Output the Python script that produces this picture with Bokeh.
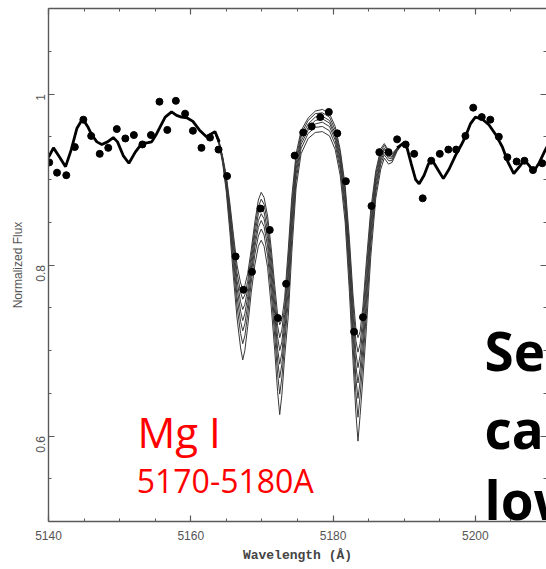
import math
from bokeh.plotting import figure
from bokeh.models import FixedTicker, LinearAxis, Label, CustomJSTickFormatter, Range1d
from bokeh.embed import file_html
from bokeh.resources import INLINE

# ---------------- data ----------------
x_major = [5140, 5160, 5180, 5200]
x_minor = [5145, 5150, 5155, 5165, 5170, 5175, 5185, 5190, 5195, 5205]
y_major = [0.6, 0.8, 1.0]
y_minor = [0.5, 0.55, 0.65, 0.7, 0.75, 0.85, 0.9, 0.95, 1.05, 1.1]

# continuum shared by all models (left of the Mg b lines)
cont_left_wl = [5140.0, 5140.7, 5141.5, 5142.4, 5143.2, 5144.0, 5144.8, 5145.5, 5146.1,
                5146.8, 5147.5, 5148.3, 5149.1, 5149.7, 5150.5, 5151.3, 5152.2, 5153.1,
                5154.0, 5154.5, 5155.1, 5155.6, 5156.4, 5157.3, 5158.0, 5158.7, 5159.5,
                5160.3, 5161.2, 5162.2, 5162.8]
cont_left_flux = [0.926, 0.937, 0.927, 0.915, 0.935, 0.960, 0.971, 0.962, 0.952,
                  0.944, 0.941, 0.944, 0.949, 0.944, 0.928, 0.919, 0.932, 0.942,
                  0.943, 0.944, 0.952, 0.960, 0.973, 0.979, 0.975, 0.973, 0.972,
                  0.968, 0.958, 0.950, 0.953]

# continuum shared by all models (right of the lines)
cont_right_wl = [5189.8, 5190.4, 5191.0, 5191.6, 5192.1, 5192.8, 5193.4, 5193.9, 5194.7,
                 5195.5, 5196.3, 5197.2, 5198.0, 5198.6, 5199.3, 5200.0, 5200.9, 5201.9,
                 5202.9, 5203.8, 5204.6, 5205.4, 5206.2, 5206.9, 5207.6, 5208.2, 5209.0,
                 5209.8, 5210.5]
cont_right_flux = [0.942, 0.937, 0.918, 0.900, 0.895, 0.905, 0.918, 0.923, 0.912,
                   0.901, 0.912, 0.928, 0.940, 0.950, 0.965, 0.973, 0.971, 0.964,
                   0.952, 0.938, 0.920, 0.907, 0.915, 0.923, 0.916, 0.909, 0.920,
                   0.934, 0.945]

# wavelength grid of the Mg I line region
line_wl = [5163.4, 5164.0, 5164.5, 5165.0, 5165.5, 5166.0, 5166.5, 5167.0, 5167.3, 5167.6,
           5168.0, 5168.5, 5169.0, 5169.5, 5169.9, 5170.3, 5170.8, 5171.3, 5171.8, 5172.2,
           5172.5, 5172.8, 5173.2, 5173.7, 5174.2, 5174.8, 5175.5, 5176.5, 5177.5, 5178.5,
           5179.5, 5180.3, 5181.0, 5181.7, 5182.3, 5182.8, 5183.2, 5183.5, 5183.8, 5184.2,
           5184.7, 5185.3, 5186.0, 5186.7, 5187.2, 5187.8, 5188.3, 5189.0]

model_1 = [0.956, 0.944, 0.926, 0.904, 0.872, 0.835, 0.800, 0.779, 0.772, 0.776,
           0.790, 0.818, 0.850, 0.876, 0.885, 0.879, 0.857, 0.820, 0.776, 0.742,
           0.730, 0.736, 0.762, 0.818, 0.880, 0.930, 0.957, 0.972, 0.980, 0.982,
           0.977, 0.962, 0.935, 0.893, 0.830, 0.765, 0.726, 0.715, 0.722, 0.752,
           0.806, 0.865, 0.910, 0.936, 0.942, 0.934, 0.930, 0.937]
model_2 = [0.956, 0.943, 0.925, 0.901, 0.867, 0.828, 0.791, 0.768, 0.760, 0.765,
           0.781, 0.811, 0.843, 0.868, 0.877, 0.871, 0.849, 0.810, 0.765, 0.729,
           0.715, 0.724, 0.752, 0.807, 0.871, 0.924, 0.953, 0.969, 0.977, 0.978,
           0.973, 0.958, 0.931, 0.887, 0.821, 0.754, 0.712, 0.698, 0.708, 0.740,
           0.795, 0.857, 0.906, 0.933, 0.940, 0.932, 0.929, 0.936]
model_3 = [0.956, 0.943, 0.924, 0.898, 0.862, 0.821, 0.782, 0.757, 0.748, 0.754,
           0.772, 0.804, 0.836, 0.860, 0.869, 0.862, 0.840, 0.800, 0.754, 0.716,
           0.700, 0.710, 0.742, 0.795, 0.861, 0.918, 0.949, 0.965, 0.973, 0.974,
           0.969, 0.954, 0.926, 0.881, 0.812, 0.743, 0.698, 0.680, 0.694, 0.728,
           0.783, 0.849, 0.901, 0.929, 0.937, 0.929, 0.927, 0.936]
model_4 = [0.956, 0.942, 0.922, 0.896, 0.857, 0.813, 0.773, 0.746, 0.735, 0.743,
           0.763, 0.796, 0.828, 0.852, 0.860, 0.854, 0.831, 0.790, 0.743, 0.702,
           0.684, 0.697, 0.732, 0.784, 0.851, 0.912, 0.945, 0.961, 0.969, 0.971,
           0.966, 0.950, 0.922, 0.874, 0.803, 0.731, 0.683, 0.662, 0.679, 0.715,
           0.772, 0.841, 0.896, 0.925, 0.935, 0.927, 0.926, 0.935]
model_5 = [0.955, 0.942, 0.921, 0.893, 0.852, 0.806, 0.763, 0.734, 0.723, 0.731,
           0.753, 0.789, 0.821, 0.844, 0.852, 0.845, 0.822, 0.780, 0.731, 0.689,
           0.668, 0.684, 0.721, 0.772, 0.842, 0.906, 0.941, 0.958, 0.965, 0.967,
           0.962, 0.946, 0.917, 0.868, 0.793, 0.720, 0.668, 0.644, 0.664, 0.702,
           0.760, 0.833, 0.891, 0.922, 0.932, 0.925, 0.924, 0.935]
model_6 = [0.955, 0.941, 0.920, 0.889, 0.846, 0.797, 0.752, 0.720, 0.708, 0.717,
           0.742, 0.780, 0.812, 0.834, 0.842, 0.835, 0.811, 0.768, 0.717, 0.673,
           0.649, 0.668, 0.709, 0.758, 0.830, 0.899, 0.936, 0.954, 0.961, 0.962,
           0.957, 0.941, 0.912, 0.860, 0.782, 0.706, 0.651, 0.622, 0.647, 0.687,
           0.746, 0.823, 0.885, 0.918, 0.929, 0.922, 0.922, 0.934]
model_7 = [0.955, 0.940, 0.918, 0.885, 0.838, 0.785, 0.738, 0.703, 0.689, 0.700,
           0.728, 0.768, 0.800, 0.822, 0.829, 0.822, 0.797, 0.752, 0.700, 0.652,
           0.625, 0.648, 0.693, 0.740, 0.815, 0.890, 0.930, 0.948, 0.955, 0.956,
           0.951, 0.935, 0.905, 0.850, 0.768, 0.688, 0.628, 0.594, 0.624, 0.668,
           0.728, 0.810, 0.878, 0.912, 0.925, 0.918, 0.920, 0.933]
models = [model_1, model_2, model_3, model_4, model_5, model_6, model_7]

# observed spectrum (dots)
obs_wl = [5140.1, 5141.2, 5142.5, 5143.7, 5144.9, 5146.0, 5147.2, 5148.4, 5149.6, 5150.8,
          5152.0, 5153.2, 5154.4, 5155.6, 5156.7, 5157.9, 5159.2, 5160.3, 5161.5, 5162.7,
          5163.9, 5165.1, 5166.3, 5167.4, 5168.6, 5169.8, 5171.1, 5172.25, 5173.4, 5174.6,
          5175.8, 5177.0, 5178.2, 5179.4, 5180.6, 5181.8, 5182.95, 5184.2, 5185.4, 5186.5,
          5187.8, 5189.0, 5190.2, 5191.4, 5192.6, 5193.8, 5195.0, 5196.2, 5197.3, 5198.6,
          5199.7, 5200.9, 5202.1, 5203.3, 5204.5, 5205.8, 5206.9, 5208.1, 5209.4]
obs_flux = [0.920, 0.908, 0.905, 0.938, 0.970, 0.951, 0.930, 0.937, 0.959, 0.948,
            0.952, 0.941, 0.952, 0.991, 0.958, 0.992, 0.977, 0.957, 0.937, 0.949,
            0.935, 0.904, 0.810, 0.771, 0.792, 0.866, 0.841, 0.738, 0.778, 0.928,
            0.955, 0.962, 0.973, 0.979, 0.954, 0.898, 0.722, 0.739, 0.869, 0.932,
            0.932, 0.947, 0.941, 0.930, 0.878, 0.922, 0.930, 0.935, 0.935, 0.951,
            0.984, 0.973, 0.970, 0.950, 0.926, 0.921, 0.922, 0.911, 0.919]

# ---------------- figure ----------------
p = figure(width=546, height=569, x_range=Range1d(5140, 5210), y_range=Range1d(0.5, 1.1),
           output_backend="svg", toolbar_location=None,
           min_border_left=48, min_border_right=0, min_border_top=8, min_border_bottom=48)
p.outline_line_color = None
p.grid.visible = False
p.background_fill_color = "white"
p.border_fill_color = "white"

axis_col = "#5a5a5a"
xt = FixedTicker(ticks=x_major, minor_ticks=x_minor)
yt = FixedTicker(ticks=y_major, minor_ticks=y_minor)


def style(ax):
    ax.axis_line_color = axis_col
    ax.axis_line_width = 1.4
    ax.major_tick_in = 6
    ax.major_tick_out = 0
    ax.minor_tick_in = 3
    ax.minor_tick_out = 0
    ax.major_tick_line_color = axis_col
    ax.minor_tick_line_color = axis_col
    ax.major_tick_line_width = 1.2
    ax.minor_tick_line_width = 1.0
    ax.major_label_text_color = "#555555"
    ax.major_label_text_font = "Liberation Sans"
    ax.major_label_text_font_size = "12px"


xa = p.xaxis[0]
xa.ticker = xt
style(xa)
xa.major_label_standoff = 9
xa.axis_label = "Wavelength (Å)"
xa.axis_label_text_font = "Liberation Mono"
xa.axis_label_text_font_size = "13px"
xa.axis_label_text_font_style = "bold"
xa.axis_label_text_color = "#444444"
xa.axis_label_standoff = 5

ya = p.yaxis[0]
ya.ticker = yt
style(ya)
ya.formatter = CustomJSTickFormatter(code="return String(Math.round(tick*100)/100)")
ya.major_label_orientation = math.pi / 2
ya.major_label_standoff = 8
ya.axis_label = "Normalized Flux"
ya.axis_label_text_font = "Liberation Sans"
ya.axis_label_text_font_size = "12px"
ya.axis_label_text_font_style = "normal"
ya.axis_label_text_color = "#555555"
ya.axis_label_standoff = 4

# frame ticks on the top and right (no labels drawn)
top = LinearAxis(ticker=xt)
style(top)
top.major_label_text_font_size = "1px"
top.major_label_text_color = None
top.major_label_standoff = 0
p.add_layout(top, "above")

right = LinearAxis(ticker=yt)
style(right)
right.axis_line_color = None
right.major_label_text_font_size = "1px"
right.major_label_text_color = None
right.major_label_standoff = 0
p.add_layout(right, "right")

# model spectra
for m in models:
    p.line(cont_left_wl + line_wl + cont_right_wl, cont_left_flux + m + cont_right_flux,
           line_color="#383838", line_width=1.0)

# merged continuum looks thick
p.line(cont_left_wl + line_wl[:2], cont_left_flux + model_1[:2], line_color="black", line_width=2.8)
p.line(line_wl[-1:] + cont_right_wl, model_1[-1:] + cont_right_flux, line_color="black", line_width=2.8)

# observations
p.scatter(obs_wl, obs_flux, size=7, color="black")

# text
p.add_layout(Label(x=5152.5, y=0.6052, text="Mg I", text_color="#ff0000",
                   text_font="Open Sans", text_font_size="42px", text_baseline="alphabetic"))
p.add_layout(Label(x=5152.4, y=0.5482, text="5170-5180A", text_color="#ff0000",
                   text_font="Open Sans", text_font_size="32px", text_baseline="alphabetic"))
for txt, yy in [("Se", 0.700), ("ca", 0.6088), ("low", 0.526)]:
    p.add_layout(Label(x=5201.3, y=yy, text=txt, text_color="black", text_font="Open Sans",
                       text_font_style="bold", text_font_size="53px", text_baseline="alphabetic"))

open("out.html", "w").write(file_html(p, INLINE))
